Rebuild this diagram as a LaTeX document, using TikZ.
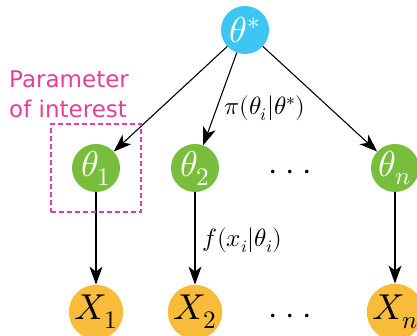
\documentclass[tikz,border=0pt]{standalone}
\usepackage{fontspec}
\usepackage{unicode-math}
\setmathfont{Latin Modern Math}
\newfontfamily\labelfont{DejaVu Sans}
\usetikzlibrary{arrows.meta}
\definecolor{topblue}{RGB}{62,198,242}
\definecolor{midgreen}{RGB}{120,190,60}
\definecolor{botorange}{RGB}{249,188,58}
\definecolor{pink}{RGB}{232,62,150}
\begin{document}
\begin{tikzpicture}[x=1pt,y=-1pt,
  vnode/.style={circle,minimum size=48pt,inner sep=0pt,font=\fontsize{36}{36}\selectfont},
  hyper/.style={vnode,fill=topblue,text=white},
  param/.style={vnode,fill=midgreen,text=white},
  obs/.style={vnode,fill=botorange,text=black},
  conn/.style={-{Stealth[length=18pt,width=13pt,inset=5pt]},line width=1.1pt},
  lbl/.style={font=\fontsize{25}{25}\selectfont},
  dotsfont/.style={font=\fontsize{34}{34}\selectfont,anchor=base,inner sep=0pt}]
\useasboundingbox (0,0) rectangle (417,336);
\node[hyper] (ts) at (245,30) {$\theta^*$};
\node[param] (t1) at (96,168) {$\theta_1$};
\node[param] (t2) at (195,168) {$\theta_2$};
\node[param] (tn) at (395,168) {$\theta_n$};
\node[obs] (x1) at (96,312) {$X_1$};
\node[obs] (x2) at (195,312) {$X_2$};
\node[obs] (xn) at (395,312) {$X_n$};
\node[dotsfont] (d1) at (290,180.5) {$\cdotp\cdotp\cdotp$};
\node[dotsfont] (d2) at (290,324.5) {$\cdotp\cdotp\cdotp$};
\draw[conn] (ts) -- (t1);
\draw[conn] (ts) -- (t2);
\draw[conn] (ts) -- (tn);
\draw[conn] (t1) -- (x1);
\draw[conn] (t2) -- (x2);
\draw[conn] (tn) -- (xn);
\node[lbl,anchor=west] (pl) at (221,108) {$\pi(\theta_i|\theta^*)$};
\node[lbl,anchor=west] (fl) at (199,240) {$f(x_i|\theta_i)$};
\node[draw=pink,line width=1.6pt,dash pattern=on 5pt off 3pt,minimum width=90pt,minimum height=88pt,inner sep=0pt] (box) at (96,168) {};
\node[text=pink,font=\labelfont\fontsize{23}{30}\selectfont,align=left,anchor=north west,inner sep=0pt] (poi) at (9,71) {Parameter\\of interest};
\end{tikzpicture}
\end{document}
